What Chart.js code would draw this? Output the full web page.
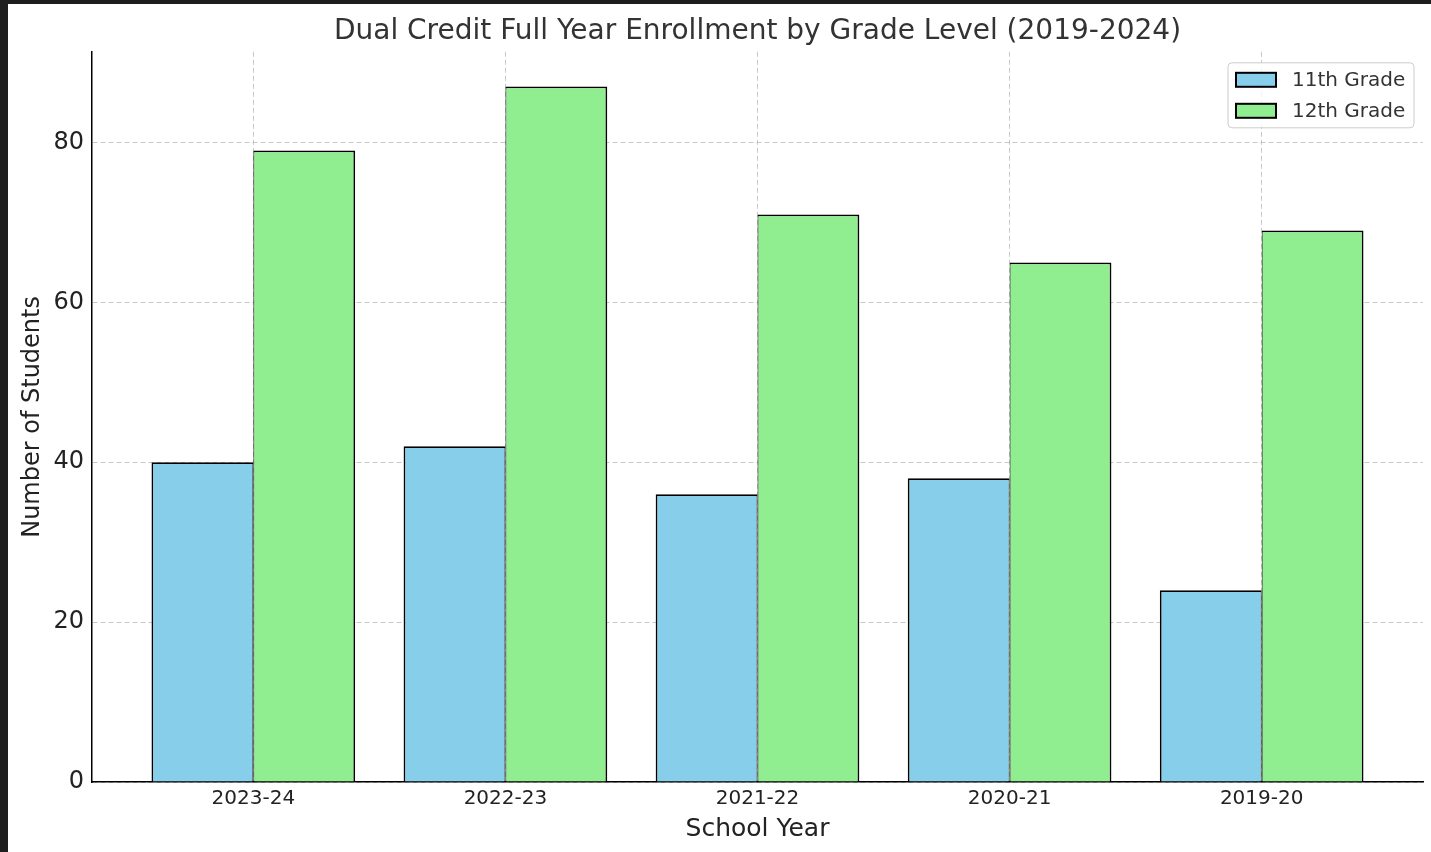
<!DOCTYPE html>
<html>
<head>
<meta charset="utf-8">
<title>Dual Credit Full Year Enrollment</title>
<script src="https://cdn.jsdelivr.net/npm/chart.js@4.4.1/dist/chart.umd.min.js"></script>
<style>
  body { margin: 0; background: #1e1e1e; }
  #wrap { position: absolute; left: 8px; top: 4px; width: 1423px; height: 848px; background: #fff; }
</style>
</head>
<body>
<div id="wrap"><canvas id="enrollment"></canvas></div>
<script>
const schoolYears = ['2023-24', '2022-23', '2021-22', '2020-21', '2019-20'];
const grade11 = [40, 42, 36, 38, 24];
const grade12 = [79, 87, 71, 65, 69];
const yTicks = [0, 20, 40, 60, 80];

Chart.defaults.font.family = "'DejaVu Sans', sans-serif";
Chart.defaults.color = '#222';

// legend box drawn inside the plot, top right
const boxLegend = {
  id: 'boxLegend',
  afterDraw(chart) {
    const ctx = chart.ctx;
    const area = chart.chartArea;
    const w = 186, h = 65;
    const left = area.right - 9 - w;
    const top = area.top + 11;
    ctx.save();
    ctx.beginPath();
    ctx.roundRect(left, top, w, h, 4);
    ctx.fillStyle = 'rgba(255,255,255,0.8)';
    ctx.fill();
    ctx.strokeStyle = '#cccccc';
    ctx.lineWidth = 1;
    ctx.stroke();
    ctx.font = "20px 'DejaVu Sans'";
    ctx.textBaseline = 'middle';
    chart.data.datasets.forEach((ds, i) => {
      const y = top + 17 + i * 31;
      ctx.fillStyle = ds.backgroundColor;
      ctx.fillRect(left + 8, y - 7, 40, 14);
      ctx.strokeStyle = '#000';
      ctx.lineWidth = 2;
      ctx.strokeRect(left + 8, y - 7, 40, 14);
      ctx.fillStyle = '#333';
      ctx.fillText(ds.label, left + 64, y + 1);
    });
    ctx.restore();
  }
};

const gridColor = 'rgba(176,176,176,0.7)';

new Chart(document.getElementById('enrollment'), {
  type: 'bar',
  data: {
    datasets: [{
      label: '11th Grade',
      data: grade11.map((v, i) => ({ x: i, y: v })),
      backgroundColor: '#87CEEB',
      borderColor: '#000',
      borderWidth: { top: 1.8, left: 1.8, right: 1, bottom: 0 },
      borderSkipped: false,
      categoryPercentage: 0.808,
      barPercentage: 1.0,
    }, {
      label: '12th Grade',
      data: grade12.map((v, i) => ({ x: i, y: v })),
      backgroundColor: '#90EE90',
      borderColor: '#000',
      borderWidth: { top: 1.8, left: 1, right: 1.8, bottom: 0 },
      borderSkipped: false,
      categoryPercentage: 0.808,
      barPercentage: 1.0,
    }]
  },
  options: {
    responsive: true,
    maintainAspectRatio: false,
    animation: false,
    layout: { padding: { left: 0, right: 8, top: 0, bottom: 0 } },
    plugins: {
      legend: { display: false },
      tooltip: { enabled: false },
      title: {
        display: true,
        fullSize: false,
        text: 'Dual Credit Full Year Enrollment by Grade Level (2019-2024)',
        color: '#333',
        font: { size: 28, weight: 'normal' },
        padding: { top: 11, bottom: 3.2 }
      }
    },
    scales: {
      x: {
        type: 'linear',
        min: -0.64,
        max: 4.64,
        offset: false,
        z: 0,
        afterBuildTicks: (scale) => { scale.ticks = schoolYears.map((s, i) => ({ value: i })); },
        afterFit: (scale) => { scale.height = 70; },
        ticks: {
          callback: (v) => schoolYears[Math.round(v)],
          font: { size: 20 },
          color: '#222',
          padding: 5,
          maxRotation: 0,
          autoSkip: false
        },
        grid: { offset: false, drawTicks: false, color: gridColor, lineWidth: 1 },
        border: { display: true, color: '#000', width: 1.5, dash: [5, 3] },
        title: {
          display: true,
          text: 'School Year',
          font: { size: 25 },
          color: '#222',
          padding: { top: 0, bottom: 8 }
        }
      },
      y: {
        min: 0,
        max: 91.35,
        z: 1,
        afterBuildTicks: (scale) => { scale.ticks = yTicks.map(v => ({ value: v })); },
        afterFit: (scale) => { scale.width = 84; },
        ticks: { font: { size: 24 }, color: '#222', padding: 8 },
        grid: { drawTicks: false, color: gridColor, lineWidth: 1 },
        border: { display: true, color: '#000', width: 1.5, dash: [5, 3] },
        title: {
          display: true,
          text: 'Number of Students',
          font: { size: 24 },
          color: '#222',
          padding: { top: 10, bottom: 0 }
        }
      }
    }
  },
  plugins: [boxLegend]
});
</script>
</body>
</html>
